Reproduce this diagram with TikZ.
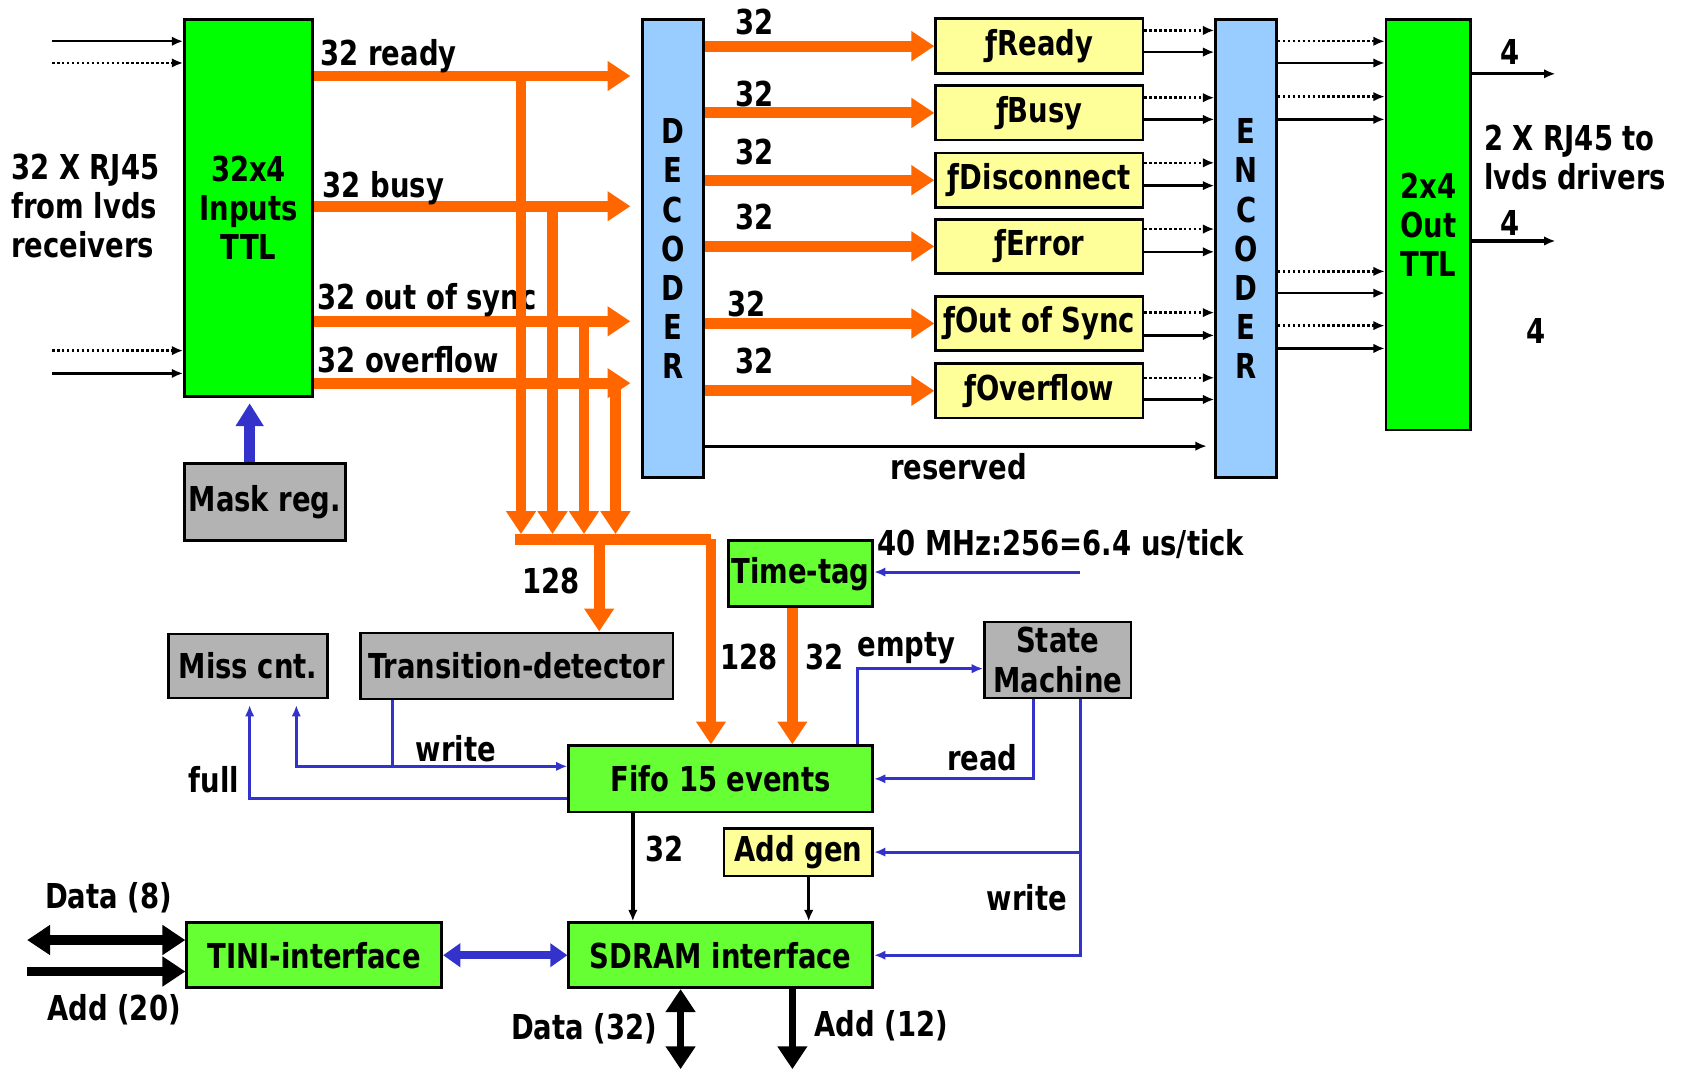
\documentclass[tikz,border=0pt]{standalone}
\usepackage{fontspec}
\setmainfont{DejaVu Sans}[FakeStretch=0.8]
\usepackage{tikz}
\usetikzlibrary{arrows.meta, fit, positioning}

\definecolor{busorange}{HTML}{FF6600}
\definecolor{ctlblue}{HTML}{3333CC}
\definecolor{ttlgreen}{HTML}{00FF00}
\definecolor{fifogreen}{HTML}{66FF33}
\definecolor{flagyellow}{HTML}{FFFF99}
\definecolor{codeblue}{HTML}{99CCFF}
\definecolor{reggray}{HTML}{B3B3B3}

\tikzset{
  blk/.style={draw=black, line width=1.4pt, inner sep=0pt},
  txt/.style={label={[lbl, align=center]center:#1}},
  bus/.style={busorange, line width=5.7pt, -{Triangle[length=12pt,width=15pt]}},
  busline/.style={busorange, line width=5.7pt},
  ctl/.style={ctlblue, line width=1.6pt, -{Latex[length=6pt,width=5pt]}},
  ctlline/.style={ctlblue, line width=1.6pt},
  sig/.style={black, line width=1.3pt, -{Latex[length=6pt,width=5pt]}},
  sigdot/.style={sig, dash pattern=on 1.3pt off 1.3pt},
  fat/.style={black, line width=5pt, -{Triangle[length=12pt,width=15pt]}},
  fatboth/.style={fat, {Triangle[length=12pt,width=15pt]}-{Triangle[length=12pt,width=15pt]}},
  lbl/.style={inner sep=0pt},
}

\begin{document}
\begin{tikzpicture}[x=0.02cm, y=-0.02cm,
  font=\fontsize{18}{20.5}\selectfont\bfseries]
  \useasboundingbox (0,0) rectangle (1568,985);

  % big blocks
  \node[blk, fill=ttlgreen, fit={(170,18) (288,365)}, txt={32x4\\Inputs\\TTL}] (inp) {};
  \node[blk, fill=codeblue, fit={(592,18) (648,440)}, txt={D\\E\\C\\O\\D\\E\\R}] (dec) {};
  \node[blk, fill=codeblue, fit={(1120,18) (1176,440)}, txt={E\\N\\C\\O\\D\\E\\R}] (enc) {};
  \node[blk, fill=ttlgreen, fit={(1277,18) (1355,396)}, txt={2x4\\Out\\TTL}] (out) {};

  % flag blocks
  \node[blk, fill=flagyellow, fit={(862,17) (1053,68)}, txt=ƒReady] (fr) {};
  \node[blk, fill=flagyellow, fit={(862,79) (1053,129)}, txt=ƒBusy] (fb) {};
  \node[blk, fill=flagyellow, fit={(862,141) (1053,191)}, txt=ƒDisconnect] (fd) {};
  \node[blk, fill=flagyellow, fit={(862,202) (1053,252)}, txt=ƒError] (fe) {};
  \node[blk, fill=flagyellow, fit={(862,273) (1053,323)}, txt=ƒOut of Sync] (fs) {};
  \node[blk, fill=flagyellow, fit={(862,335) (1053,385)}, txt=ƒOverflow] (fo) {};

  % lower blocks
  \node[blk, fill=reggray, fit={(170,427) (318,498)}, txt=Mask reg.] (mask) {};
  \node[blk, fill=reggray, fit={(155,584) (302,643)}, txt=Miss cnt.] (miss) {};
  \node[blk, fill=reggray, fit={(332,583) (620,644)}, txt=Transition-detector] (trans) {};
  \node[blk, fill=reggray, fit={(907,573) (1042,643)}, txt={State\\Machine}] (state) {};
  \node[blk, fill=fifogreen, fit={(671,498) (804,559)}, txt=Time-tag] (ttag) {};
  \node[blk, fill=fifogreen, fit={(524,687) (804,748)}, txt=Fifo 15 events] (fifo) {};
  \node[blk, fill=flagyellow, fit={(667,763) (804,807)}, txt=Add gen] (addg) {};
  \node[blk, fill=fifogreen, fit={(172,850) (407,910)}, txt=TINI-interface] (tini) {};
  \node[blk, fill=fifogreen, fit={(524,850) (804,910)}, txt=SDRAM interface] (sdram) {};

  % receiver inputs
  \foreach \y/\s in {38/sig, 58/sigdot, 323/sigdot, 344/sig} {
    \coordinate (rx\y) at (48,\y);
    \draw[\s] (rx\y) -- (inp.west |- rx\y);
  }
  \node[lbl, align=left, anchor=west] (rxtxt) at (10,190) {32 X RJ45\\from lvds\\receivers};

  % the four 32 bit buses
  \foreach \y in {70, 190, 296, 353}
    \draw[bus, shorten >=5.7pt] (inp.east |- 0,\y) -- (dec.west |- 0,\y);
  \node[lbl, anchor=base west] (lrdy) at (295,60) {32 ready};
  \node[lbl, anchor=base west] (lbsy) at (297,182) {32 busy};
  \node[lbl, anchor=base west] (lsyn) at (292,285) {32 out of sync};
  \node[lbl, anchor=base west] (lovf) at (292,343) {32 overflow};

  % taps down to the 128 bus
  \coordinate (bl) at (474,497);
  \coordinate (br) at (655,497);
  \foreach \x/\y in {480/70, 509/190, 538/296, 567/353}
    \draw[bus] (\x,\y) -- (\x,492);
  \draw[busline] (bl) -- (br);
  \draw[bus] (br) -- (fifo.north -| br);
  \draw[bus] (552,497) -- (trans.north -| 552,0);
  \draw[bus] (ttag.south -| 730,0) -- (fifo.north -| 730,0);
  \node[lbl] (l128a) at (508,535) {128};
  \node[lbl] (l128b) at (690,605) {128};
  \node[lbl] (l32t) at (760,605) {32};

  % decoder to flags
  \foreach \b in {fr, fb, fd, fe, fs, fo}
    \draw[bus] (dec.east |- \b.west) -- (\b.west);
  \foreach \y in {20, 87, 140, 200, 333}
    \node[lbl] (d\y) at (695,\y) {32};
  \node[lbl] (d280) at (688,280) {32};

  % flags to encoder
  \foreach \b/\d/\s in {fr/28/48, fb/90/110, fd/150/171, fe/211/232, fs/288/309, fo/348/368} {
    \draw[sigdot] (\b.east |- 0,\d) -- (enc.west |- 0,\d);
    \draw[sig] (\b.east |- 0,\s) -- (enc.west |- 0,\s);
  }
  \draw[sig, line width=1.6pt, shorten >=4pt] (dec.east |- 0,411) -- (enc.west |- 0,411);
  \node[lbl] (lres) at (883,430) {reserved};

  % encoder to output
  \foreach \y/\s in {38/sigdot, 58/sig, 89/sigdot, 110/sig, 250/sigdot, 270/sig, 300/sigdot, 321/sig}
    \draw[\s] (enc.east |- 0,\y) -- (out.west |- 0,\y);
  \coordinate (tx1) at (1433,68);
  \coordinate (tx2) at (1433,222);
  \draw[sig, line width=1.6pt] (out.east |- tx1) -- (tx1);
  \draw[sig, line width=1.6pt] (out.east |- tx2) -- (tx2);
  \node[lbl] (l4a) at (1391,48) {4};
  \node[lbl] (l4b) at (1391,205) {4};
  \node[lbl] (l4c) at (1415,305) {4};
  \node[lbl, align=left, anchor=west] (txtxt) at (1367,145) {2 X RJ45 to\\lvds drivers};

  % mask
  \draw[ctlblue, line width=5.7pt, -{Triangle[length=12pt,width=14pt]}, shorten >=3pt]
    (mask.north -| 230,0) -- (inp.south -| 230,0);

  % clock
  \coordinate (clk) at (995,527);
  \draw[ctl] (clk) -- (ttag.east |- clk);
  \node[lbl, anchor=base west] (lclk) at (808,512) {40 MHz:256=6.4 us/tick};

  % control lines
  \coordinate (wj) at (362,706);
  \draw[ctlline] (trans.south -| wj) -- (wj);
  \draw[ctl] (wj) -- (fifo.west |- wj);
  \draw[ctl, shorten >=3pt] (wj) -| (miss.south -| 273,0);
  \draw[ctl, shorten >=3pt] (fifo.west |- 0,736) -| (miss.south -| 230,0);
  \node[lbl] (lwr1) at (420,690) {write};
  \node[lbl] (lfull) at (197,718) {full};

  \draw[ctl] (fifo.north -| 790,0) |- (state.west |- 0,616);
  \node[lbl] (lemp) at (835,597) {empty};
  \draw[ctl] (state.south -| 952,0) |- (fifo.east);
  \node[lbl] (lrd) at (905,698) {read};
  \coordinate (sj) at (995,785);
  \draw[ctl] (state.south -| sj) |- (sdram.east);
  \draw[ctl] (sj) -- (addg.east);
  \node[lbl] (lwr2) at (946,827) {write};

  % memory side
  \draw[sig, line width=1.8pt] (fifo.south -| 583,0) -- (sdram.north -| 583,0);
  \draw[sig, line width=1.8pt] (addg.south -| 745,0) -- (sdram.north -| 745,0);
  \node[lbl] (l32m) at (612,782) {32};

  \coordinate (tdat) at (25,866);
  \coordinate (tadd) at (25,895);
  \draw[fatboth] (tdat) -- (tini.west |- tdat);
  \draw[fat] (tadd) -- (tini.west |- tadd);
  \node[lbl] (ldat8) at (100,827) {Data (8)};
  \node[lbl] (ladd20) at (105,930) {Add (20)};

  \draw[ctlblue, line width=4pt, {Triangle[length=9pt,width=12pt]}-{Triangle[length=9pt,width=12pt]}]
    (tini.east) -- (sdram.west);

  \coordinate (mdat) at (627,985);
  \coordinate (madd) at (730,985);
  \draw[fatboth, line width=4pt] (sdram.south -| mdat) -- (mdat);
  \draw[fat, line width=4pt] (sdram.south -| madd) -- (madd);
  \node[lbl] (ldat32) at (538,948) {Data (32)};
  \node[lbl] (ladd12) at (812,945) {Add (12)};
\end{tikzpicture}
\end{document}
